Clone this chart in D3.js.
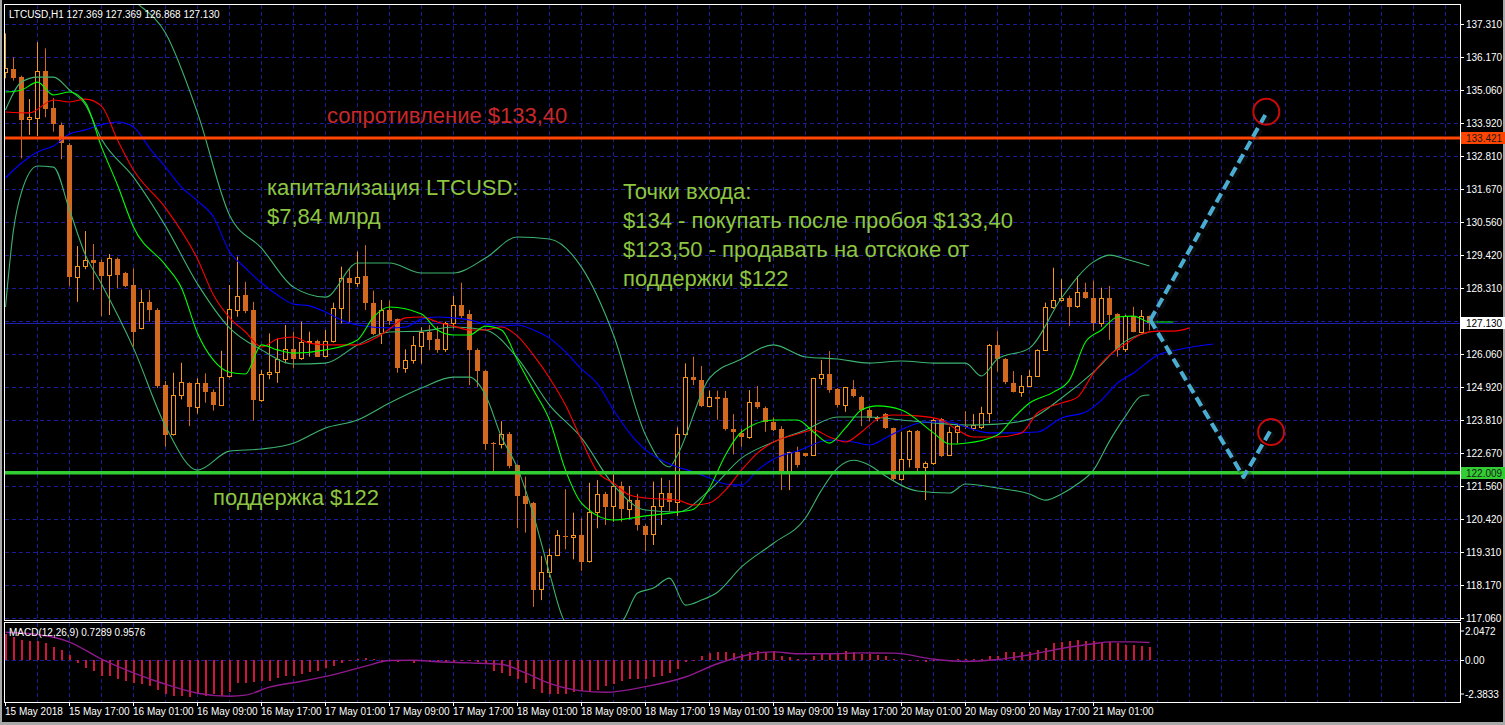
<!DOCTYPE html>
<html><head><meta charset="utf-8">
<script src="https://cdn.jsdelivr.net/npm/d3@7"></script>
<style>html,body{margin:0;padding:0;background:#000;overflow:hidden}svg{display:block}</style>
</head><body><svg id="c" width="1505" height="725"></svg>
<script>
// ---------- DATA ----------
const opens=[135.65,135.77,135.49,134.06,134.09,135.70,134.43,133.87,133.18,128.67,129.04,129.26,129.20,128.73,129.30,128.83,128.41,126.93,127.82,127.56,125.00,123.32,124.64,125.06,124.24,125.06,124.78,124.34,125.29,127.58,128.07,127.56,124.49,125.37,125.44,125.90,126.23,125.90,126.46,126.51,125.98,126.49,127.62,128.64,128.47,128.72,127.81,126.76,127.56,127.25,125.59,125.85,126.35,126.82,126.56,126.22,127.11,127.73,127.42,126.19,125.48,123.03,122.98,123.33,122.27,121.23,120.99,118.05,118.62,119.21,119.85,119.81,119.90,118.98,120.66,121.29,120.90,121.57,120.77,121.07,120.21,119.92,120.88,121.31,120.99,123.32,125.26,125.17,124.29,124.60,124.55,123.49,123.36,123.21,124.41,124.23,123.75,123.49,122.05,122.71,122.67,122.62,125.26,125.38,124.85,124.29,124.85,124.60,124.15,123.87,124.01,123.53,121.79,122.47,123.43,122.19,122.33,123.83,122.62,123.41,123.60,123.55,123.56,124.04,126.37,125.88,125.06,124.77,124.98,125.31,126.20,127.65,127.90,127.96,127.67,128.16,127.96,127.11,127.96,127.42,126.23,127.37,126.82,127.369];
const highs=[136.99,136.17,135.55,134.75,136.69,136.48,134.78,133.95,133.25,129.74,130.25,129.81,129.28,129.47,129.35,128.86,128.98,128.26,128.24,127.62,125.14,125.42,125.76,125.10,125.23,125.40,124.85,126.17,128.41,129.38,128.52,127.84,125.51,126.76,126.59,127.05,126.82,127.16,126.82,126.55,126.88,127.81,129.04,128.98,129.55,129.77,128.22,127.90,127.88,127.27,126.22,126.67,126.97,127.05,127.00,127.16,128.04,128.49,127.56,126.25,125.52,123.06,123.77,123.40,122.30,121.88,121.02,119.17,119.43,120.06,121.45,120.65,120.46,121.67,121.76,121.36,121.96,121.71,121.56,121.29,120.25,121.71,121.84,121.76,123.56,125.74,125.97,125.65,124.81,124.81,124.80,124.01,123.50,124.83,124.97,124.27,123.90,123.60,122.73,122.90,122.69,125.25,125.85,126.16,124.90,124.94,125.17,124.64,124.24,123.95,124.05,123.55,123.41,123.47,123.47,122.40,123.86,123.88,123.58,123.69,124.11,124.01,124.26,126.40,126.84,125.92,125.48,125.34,125.51,126.22,127.81,129.00,128.61,128.05,128.72,128.49,128.56,128.32,128.38,127.45,127.40,127.67,127.56,127.369];
const lows=[135.46,135.38,132.73,133.53,133.49,134.13,133.64,132.70,128.38,127.84,128.95,128.24,127.35,127.39,128.30,128.34,126.31,126.90,127.16,124.90,122.90,123.28,124.51,123.60,124.03,124.40,124.13,124.30,125.25,127.33,127.45,123.79,124.43,125.20,125.08,125.74,125.57,125.86,125.97,125.97,125.95,126.45,127.11,127.11,128.35,127.56,126.70,126.40,127.05,125.42,125.42,125.73,125.73,126.19,126.10,126.13,126.93,127.28,125.00,124.94,122.79,121.99,122.84,122.16,120.12,119.97,117.44,117.67,118.44,119.17,119.40,119.06,118.67,118.95,120.12,120.23,120.34,120.34,120.42,120.04,119.34,119.55,120.23,120.70,120.54,123.28,125.00,124.25,124.25,123.82,123.45,122.64,122.90,123.17,124.19,123.41,123.43,121.42,121.42,122.19,122.55,122.60,125.00,124.74,124.24,124.09,124.58,123.60,123.77,123.77,123.50,121.75,121.74,122.19,121.99,121.08,122.28,122.55,122.58,123.01,123.50,123.45,123.50,123.70,125.46,125.03,124.75,124.60,124.96,125.29,126.16,127.60,127.85,127.01,127.63,127.94,126.85,126.99,126.54,125.97,126.13,126.80,126.78,126.868];
const closes=[135.80,135.48,134.01,134.13,135.70,134.42,133.87,133.24,128.69,129.06,129.26,129.17,128.72,129.32,128.74,128.38,126.82,127.82,127.54,124.98,123.30,124.65,125.09,124.23,125.06,124.77,124.32,125.29,127.58,128.05,127.54,124.49,125.38,125.45,125.88,126.23,125.90,126.46,126.51,125.98,126.50,127.62,128.64,128.47,128.67,127.81,126.76,127.56,127.19,125.59,125.85,126.37,126.82,126.54,126.19,127.11,127.73,127.37,126.19,125.46,122.99,122.98,123.33,122.24,121.23,120.96,118.01,118.62,119.21,119.88,119.81,119.88,118.98,120.66,121.29,120.85,121.57,120.77,121.07,120.21,119.92,120.88,121.31,120.99,123.32,125.26,125.17,124.29,124.60,124.53,123.49,123.38,123.21,124.41,124.23,123.75,123.47,121.99,122.71,122.27,122.58,125.23,125.38,124.83,124.29,124.92,124.60,124.15,123.87,123.92,123.53,121.79,122.47,123.43,122.16,122.33,123.81,122.58,123.41,123.60,123.55,123.65,124.04,126.37,125.88,125.08,124.77,124.98,125.31,126.20,127.65,127.90,127.96,127.67,128.16,127.96,127.11,127.96,127.39,126.20,127.37,126.82,127.37,127.130];

// Bollinger bands (20) : [bar index, price]
const bbUpper=[[8,140.5],[12,139.2],[16,138.13],[20,137.00],[24,134.28],[28,130.80],[32,129.67],[36,128.34],[40,128.00],[44,129.16],[48,129.16],[52,128.82],[56,128.82],[60,129.33],[64,130.05],[68,129.98],[72,129.02],[76,126.71],[80,123.30],[83,122.21],[84,122.62],[88,125.24],[92,125.89],[96,126.37],[100,125.96],[104,125.89],[108,125.75],[112,125.82],[116,125.75],[120,125.75],[122,125.31],[124,125.89],[128,126.26],[132,127.97],[136,129.20],[138,129.43],[140,129.30],[143,129.06]];
const bbMiddle=[[0,134.38],[2,135.33],[4,135.50],[6,135.50],[8,135.06],[10,134.55],[12,133.39],[16,132.09],[20,130.42],[24,128.45],[28,126.95],[32,126.20],[36,125.72],[40,125.75],[44,126.37],[48,126.81],[52,126.84],[56,126.98],[60,126.88],[64,125.92],[68,124.32],[72,123.20],[76,121.59],[80,120.74],[84,120.67],[88,121.42],[92,122.51],[96,123.06],[100,123.47],[104,123.91],[108,123.91],[112,123.81],[116,123.71],[120,123.64],[124,123.67],[128,123.84],[132,124.56],[136,125.44],[140,126.50],[143,126.81]];
const bbLower=[[0,127.66],[1,130.29],[2,131.58],[4,132.47],[6,132.43],[8,130.97],[10,129.43],[12,128.45],[16,126.26],[20,123.60],[24,122.10],[28,122.75],[32,122.82],[36,123.02],[40,123.54],[44,123.81],[48,124.39],[52,124.90],[56,125.27],[58,125.27],[60,124.66],[62,123.23],[64,122.17],[66,120.57],[68,118.59],[70,116.92],[73,116.60],[77,116.92],[79,117.91],[81,118.08],[83,118.42],[85,117.50],[87,117.67],[89,117.94],[92,118.80],[96,119.61],[100,120.47],[102,121.42],[104,122.17],[106,122.44],[108,122.27],[110,121.90],[114,121.39],[118,121.32],[120,121.63],[124,121.49],[128,121.29],[130,121.08],[132,121.29],[134,121.63],[136,122.10],[138,123.09],[140,123.94],[142,124.63],[143,124.66]];
// Alligator lines
const lips=[[0,134.99],[2,135.06],[4,135.33],[6,134.89],[8,134.99],[10,134.62],[12,133.12],[14,131.82],[16,130.39],[20,129.09],[22,128.31],[24,126.77],[26,125.85],[28,125.44],[30,125.38],[32,126.37],[34,126.20],[36,126.09],[40,126.20],[44,126.54],[46,127.32],[48,127.66],[52,127.42],[54,126.88],[56,126.71],[58,126.71],[60,127.01],[62,126.88],[64,125.85],[66,124.83],[68,123.81],[70,122.10],[72,120.98],[76,120.40],[80,120.54],[84,120.67],[86,120.77],[88,121.49],[90,122.62],[92,123.40],[96,123.81],[99,123.81],[101,123.40],[103,123.02],[105,123.54],[107,124.15],[109,124.29],[112,124.15],[116,123.37],[118,122.99],[120,123.02],[124,123.30],[126,123.88],[128,124.39],[131,124.76],[133,125.17],[135,126.47],[137,126.88],[139,127.32],[141,127.35],[143,127.15],[146,127.15]];
const teeth=[[0,134.31],[3,134.28],[6,134.72],[8,134.65],[10,134.75],[12,134.51],[14,133.36],[16,132.33],[20,131.04],[24,129.30],[26,128.07],[28,127.30],[30,126.81],[32,126.30],[34,126.57],[36,126.64],[38,126.43],[40,126.37],[44,126.37],[46,126.57],[48,126.91],[50,127.29],[52,127.32],[54,127.15],[56,127.01],[58,126.88],[60,126.88],[62,126.98],[64,126.67],[66,126.02],[68,125.24],[70,124.32],[72,123.13],[74,122.04],[76,121.66],[78,121.25],[80,121.15],[84,121.08],[86,120.91],[88,120.98],[90,121.42],[92,122.10],[94,122.68],[96,123.06],[99,123.33],[101,123.47],[103,123.23],[105,123.06],[107,123.40],[109,123.84],[111,123.98],[114,123.95],[117,123.81],[119,123.47],[121,123.23],[124,123.23],[127,123.37],[129,124.05],[132,124.39],[134,124.59],[136,125.41],[138,126.02],[140,126.40],[142,126.74],[144,126.84],[146,126.84],[148,126.95]];
const jaw=[[0,132.06],[2,132.57],[4,132.95],[6,133.15],[8,133.56],[10,133.70],[12,133.88],[14,133.97],[16,133.80],[18,133.08],[20,132.43],[22,131.75],[24,131.28],[26,130.73],[28,129.55],[30,128.99],[32,128.48],[34,128.07],[36,127.76],[38,127.70],[40,127.49],[42,127.22],[44,127.05],[48,126.95],[50,126.98],[52,127.25],[54,127.32],[56,127.29],[58,127.22],[60,127.08],[62,127.01],[64,127.05],[66,126.88],[68,126.60],[70,126.13],[72,125.55],[74,125.04],[76,124.15],[78,123.37],[80,122.79],[82,122.44],[84,122.21],[86,122.04],[88,121.83],[90,121.63],[92,121.59],[94,122.10],[96,122.48],[99,122.75],[103,123.13],[106,123.06],[108,122.96],[110,123.20],[113,123.60],[115,123.74],[118,123.74],[120,123.57],[123,123.37],[126,123.37],[129,123.40],[132,123.88],[135,124.08],[137,124.49],[139,125.07],[141,125.41],[144,126.02],[147,126.23],[151,126.40]];
// MACD(12,26,9)
const macdMain=[1.45,1.27,1.12,1.01,1.01,0.90,0.72,0.56,0.24,-0.19,-0.47,-0.65,-0.90,-0.94,-1.08,-1.18,-1.31,-1.37,-1.49,-1.69,-1.96,-2.02,-2.06,-2.10,-1.96,-2.02,-1.96,-2.02,-1.84,-1.31,-1.31,-1.27,-1.18,-1.18,-1.03,-0.90,-0.90,-0.79,-0.69,-0.65,-0.47,-0.37,-0.19,-0.04,0.01,0.08,0.02,-0.02,-0.08,-0.14,-0.10,-0.19,-0.11,-0.16,-0.16,-0.14,-0.14,-0.11,-0.11,-0.16,-0.19,-0.65,-0.75,-0.94,-1.08,-1.31,-1.65,-1.87,-1.96,-1.96,-1.91,-1.84,-1.77,-1.77,-1.69,-1.49,-1.40,-1.22,-1.12,-1.08,-1.08,-0.97,-0.90,-0.75,-0.56,-0.15,-0.02,0.19,0.37,0.41,0.41,0.37,0.32,0.41,0.45,0.41,0.47,0.22,0.15,0.04,0.04,0.19,0.32,0.37,0.37,0.45,0.41,0.32,0.32,0.28,0.22,0.04,0.02,0.00,-0.10,-0.15,-0.02,-0.11,-0.04,0.01,0.01,0.02,0.03,0.17,0.22,0.41,0.41,0.41,0.41,0.52,0.65,0.90,0.97,1.03,1.08,1.06,1.03,0.97,0.97,0.90,0.84,0.80,0.76,0.7289];
const macdSignal=[[0,1.53],[4,1.40],[8,0.98],[12,0.02],[16,-0.75],[20,-1.39],[24,-1.89],[28,-2.06],[30,-2.00],[33,-1.55],[37,-1.22],[41,-0.85],[45,-0.37],[48,-0.06],[51,-0.04],[54,-0.13],[58,-0.19],[62,-0.27],[65,-0.75],[68,-1.34],[72,-1.76],[75,-1.84],[80,-1.52],[85,-0.98],[89,-0.24],[93,0.28],[96,0.43],[99,0.32],[103,0.32],[107,0.37],[111,0.36],[116,0.02],[120,-0.11],[124,0.00],[128,0.27],[132,0.62],[136,0.88],[138,0.99],[141,0.99],[143,0.9576]];
// Axis ticks
const priceTicks=[137.310,136.170,135.060,133.920,132.810,131.670,130.560,129.420,128.310,126.060,124.920,123.810,122.670,121.560,120.420,119.310,118.170,117.060];
const priceGrid=[137.310,136.170,135.060,133.920,132.810,131.670,130.560,129.420,128.310,127.180,126.060,124.920,123.810,122.670,121.560,120.420,119.310,118.170,117.060];
const macdTicks=[2.0472,0.00,-2.3833];
const timeTickBars=[0,8,16,24,32,40,48,56,64,72,80,88,96,104,112,120,128,136];
const timeLabels=["15 May 2018","15 May 17:00","16 May 01:00","16 May 09:00","16 May 17:00","17 May 01:00","17 May 09:00","17 May 17:00","18 May 01:00","18 May 09:00","18 May 17:00","19 May 01:00","19 May 09:00","19 May 17:00","20 May 01:00","20 May 09:00","20 May 17:00","21 May 01:00"];
// Levels & scenario
const resistance=133.421, support=122.009, lastPrice=127.130;
const projUp=[[143.1,127.22],[157.7,134.32]];
const projDown=[[143.1,127.22],[154.75,121.87],[158.3,123.53]];
const targets=[[157.6,134.32],[158.2,123.40]];

// ---------- LAYOUT ----------
const L=5,R=1460,MT=5,MB=620,ST=623,SB=702;
const svg=d3.select("#c");
const font="'Liberation Sans', Arial, sans-serif";
const x=d3.scaleLinear().domain([0,181.8]).range([5.5,5.5+181.8*8]);
const y=d3.scaleLinear().domain([117.06,137.31]).range([618,24]);
const my=d3.scaleLinear().domain([-2.3833,2.0472]).range([702,623]);
const snap=v=>Math.round(v)+0.5;

svg.append("rect").attr("width",1505).attr("height",725).attr("fill","#000");
const defs=svg.append("defs");
defs.append("clipPath").attr("id","cm").append("rect").attr("x",L).attr("y",MT).attr("width",R-L).attr("height",MB-MT);
defs.append("clipPath").attr("id","cs").append("rect").attr("x",L).attr("y",ST).attr("width",R-L).attr("height",SB-ST);

const gridCol="#1c1c96";
const vg=d3.range(4,182,4);
[[MT,MB],[ST,SB]].forEach(([t,b])=>{
  svg.append("g").selectAll("line").data(vg).join("line")
    .attr("x1",d=>Math.floor(x(d))+0.5).attr("x2",d=>Math.floor(x(d))+0.5)
    .attr("y1",t).attr("y2",b).attr("stroke",gridCol).attr("stroke-dasharray","4,3");
});
svg.append("g").selectAll("line").data(priceGrid).join("line")
  .attr("x1",L).attr("x2",R).attr("y1",d=>snap(y(d))).attr("y2",d=>snap(y(d)))
  .attr("stroke",gridCol).attr("stroke-dasharray","4,3");
svg.append("line").attr("x1",L).attr("x2",R).attr("y1",snap(my(0))).attr("y2",snap(my(0)))
  .attr("stroke",gridCol).attr("stroke-dasharray","4,3");
svg.append("line").attr("x1",L).attr("x2",R).attr("y1",snap(y(lastPrice))).attr("y2",snap(y(lastPrice)))
  .attr("stroke","#2020b0").attr("stroke-width",1);

// ---------- CANDLES ----------
const gm=svg.append("g").attr("clip-path","url(#cm)");
const bullCol="#f7941d", bearCol="#d2691e";
const bars=d3.range(opens.length);
gm.append("g").selectAll("line").data(bars).join("line")
  .attr("x1",i=>x(i)).attr("x2",i=>x(i)).attr("y1",i=>y(highs[i])).attr("y2",i=>y(lows[i]))
  .attr("stroke",i=>closes[i]>opens[i]?bullCol:bearCol).attr("stroke-width",1);
gm.append("g").selectAll("rect").data(bars).join("rect")
  .each(function(i){
    const s=d3.select(this);
    const bull=closes[i]>opens[i];
    const top=y(Math.max(opens[i],closes[i])), bot=y(Math.min(opens[i],closes[i]));
    if(bull){
      s.attr("x",x(i)-2).attr("y",Math.round(top)+0.5).attr("width",4).attr("height",Math.max(1,Math.round(bot-top)))
       .attr("fill","#000").attr("stroke",bullCol).attr("stroke-width",1);
    } else {
      s.attr("x",x(i)-2.5).attr("y",Math.round(top)).attr("width",5).attr("height",Math.max(1,Math.round(bot-top)))
       .attr("fill",bearCol);
    }
  });

// ---------- INDICATORS ----------
const ln=d3.line().x(d=>x(d[0])).y(d=>y(d[1])).curve(d3.curveMonotoneX);
const ind=[[bbUpper,"#3cb371"],[bbMiddle,"#3cb371"],[bbLower,"#3cb371"],[jaw,"#0000ff"],[teeth,"#ff0000"],[lips,"#00ff00"]];
ind.forEach(([d,c])=>gm.append("path").attr("d",ln(d)).attr("fill","none").attr("stroke",c).attr("stroke-width",1.1));

// ---------- LEVEL LINES ----------
gm.append("line").attr("x1",L).attr("x2",R).attr("y1",y(resistance)).attr("y2",y(resistance)).attr("stroke","#ff4500").attr("stroke-width",3);
gm.append("line").attr("x1",L).attr("x2",R).attr("y1",y(support)).attr("y2",y(support)).attr("stroke","#32cd32").attr("stroke-width",3.5);

// ---------- SCENARIO ----------
const pl=d3.line().x(d=>x(d[0])).y(d=>y(d[1]));
[projUp,projDown].forEach(p=>{
  gm.append("path").attr("d",pl(p)).attr("fill","none").attr("stroke","#222").attr("stroke-width",7).attr("stroke-opacity",0.35)
    .attr("stroke-dasharray","10,5").attr("transform","translate(2,1)");
  gm.append("path").attr("d",pl(p)).attr("fill","none").attr("stroke","#4aaed3").attr("stroke-width",4)
    .attr("stroke-dasharray","10,5").attr("stroke-linejoin","round");
});
gm.selectAll("circle.t").data(targets).join("circle").attr("class","t")
  .attr("cx",d=>x(d[0])).attr("cy",d=>y(d[1])).attr("r",13).attr("fill","none").attr("stroke","#c80a0a").attr("stroke-width",2);

// ---------- ANNOTATIONS ----------
const ann=svg.append("g").attr("font-family",font).attr("font-size",22);
ann.append("text").attr("x",327).attr("y",123).attr("fill","#c8282a").text("сопротивление $133,40");
const green="#8dc641";
[["капитализация LTCUSD:",267,195],["$7,84 млрд",267,224],
 ["Точки входа:",623,199],["$134 - покупать после пробоя $133,40",623,228],
 ["$123,50 - продавать на отскоке от",623,257],["поддержки $122",623,286],
 ["поддержка $122",213,505]].forEach(([t,tx,ty])=>ann.append("text").attr("x",tx).attr("y",ty).attr("fill",green).text(t));

// ---------- MACD ----------
const gs=svg.append("g").attr("clip-path","url(#cs)");
gs.append("g").attr("shape-rendering","crispEdges").selectAll("rect").data(bars).join("rect")
  .attr("x",i=>Math.floor(x(i))).attr("width",2)
  .attr("y",i=>Math.min(my(0),my(macdMain[i]))).attr("height",i=>Math.max(1,Math.abs(my(macdMain[i])-my(0))))
  .attr("fill","#d0143c");
gs.append("path").attr("d",d3.line().x(d=>x(d[0])).y(d=>my(d[1])).curve(d3.curveMonotoneX)(macdSignal))
  .attr("fill","none").attr("stroke","#8e1a8e").attr("stroke-width",1.4);

// ---------- FRAMES & AXES ----------
const fr=svg.append("g").attr("fill","none").attr("stroke","#fff");
fr.append("rect").attr("x",L-0.5).attr("y",MT-0.5).attr("width",R-L+1).attr("height",MB-MT+1);
fr.append("rect").attr("x",L-0.5).attr("y",ST-0.5).attr("width",R-L+1).attr("height",SB-ST+1);
svg.append("rect").attr("x",0).attr("y",0).attr("width",2).attr("height",725).attr("fill","#a8a8a8");
svg.append("rect").attr("x",1503).attr("y",0).attr("width",2).attr("height",725).attr("fill","#a8a8a8");
svg.append("rect").attr("x",0).attr("y",722).attr("width",1505).attr("height",3).attr("fill","#a8a8a8");

const txt=svg.append("g").attr("font-family",font).attr("font-size",10).attr("fill","#fff");
txt.selectAll("line.pt").data(priceTicks).join("line").attr("class","pt")
  .attr("x1",R).attr("x2",R+4).attr("y1",d=>snap(y(d))).attr("y2",d=>snap(y(d))).attr("stroke","#fff");
txt.selectAll("text.pt").data(priceTicks).join("text").attr("class","pt")
  .attr("x",R+6).attr("y",d=>y(d)+4).text(d=>d.toFixed(3));
function tag(v,bg,fg){
  const yy=y(v);
  svg.append("rect").attr("x",R+1).attr("y",Math.round(yy)-6).attr("width",44).attr("height",12).attr("fill",bg);
  svg.append("text").attr("x",R+6).attr("y",yy+4).attr("font-family",font).attr("font-size",10).attr("fill",fg).text(v.toFixed(3));
}
tag(resistance,"#ff4500","#1a1a1a");
tag(support,"#32cd32","#1a1a1a");
tag(lastPrice,"#ffffff","#000000");
txt.selectAll("text.mt").data(macdTicks).join("text").attr("class","mt")
  .attr("x",R+5).attr("y",(d,i)=>i===0?my(d)+12:(i===2?my(d)-4:my(d)+4)).text(d=>d===0?"0.00":d.toFixed(4));
txt.selectAll("line.mt").data(macdTicks).join("line").attr("class","mt")
  .attr("x1",R).attr("x2",R+4).attr("y1",(d,i)=>i===1?snap(my(d)):(i===0?ST+8:SB-8)).attr("y2",(d,i)=>i===1?snap(my(d)):(i===0?ST+8:SB-8)).attr("stroke","#fff");
txt.selectAll("line.tt").data(timeTickBars).join("line").attr("class","tt")
  .attr("x1",d=>Math.floor(x(d))+0.5).attr("x2",d=>Math.floor(x(d))+0.5).attr("y1",SB).attr("y2",SB+4).attr("stroke","#fff");
txt.selectAll("text.tt").data(timeTickBars).join("text").attr("class","tt")
  .attr("x",d=>Math.floor(x(d))).attr("y",715).text((d,i)=>timeLabels[i]);
txt.append("text").attr("x",9).attr("y",18).text("LTCUSD,H1  127.369 127.369 126.868 127.130");
txt.append("text").attr("x",9).attr("y",636).text("MACD(12,26,9) 0.7289 0.9576");
</script>
</body></html>
